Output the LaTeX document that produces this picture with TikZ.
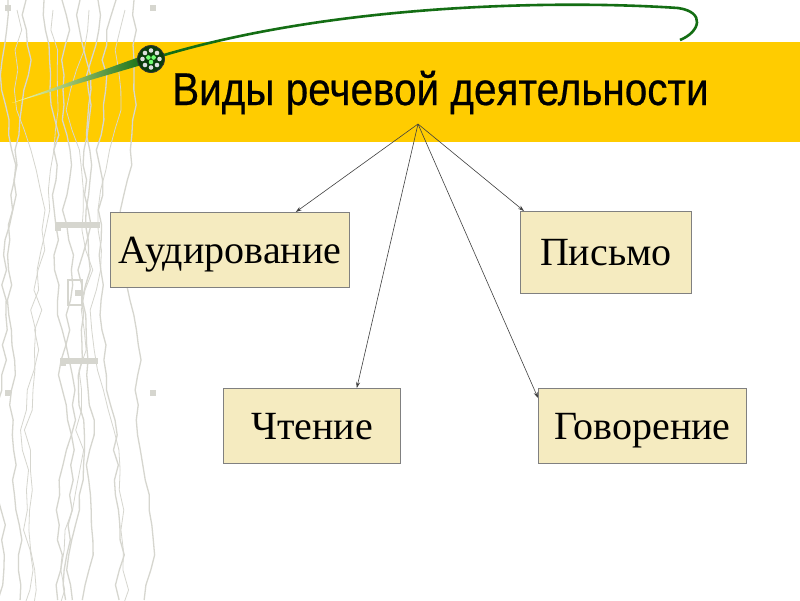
\documentclass[tikz,border=0pt]{standalone}
\usepackage{fontspec}
\setmainfont{Liberation Serif}
\newfontfamily\titlefont[FakeBold=0.5]{Liberation Sans}
\usetikzlibrary{arrows.meta,calc}
\definecolor{band}{RGB}{255,204,0}
\definecolor{boxfill}{RGB}{245,235,192}
\definecolor{boxline}{RGB}{128,128,128}
\definecolor{texgray}{RGB}{214,214,207}
\definecolor{leaf}{RGB}{20,110,20}
\tikzset{
  box/.style={draw=boxline, line width=0.8pt, fill=boxfill, inner sep=0pt, anchor=north west,
    font=\fontsize{40}{40}\selectfont, text height=26.5pt, text depth=0pt},
  link/.style={draw=black!75, line width=0.6pt, -{Stealth[length=6pt,width=4pt]}},
  tex/.style={draw=texgray, line width=1.3pt},
}
\begin{document}
\begin{tikzpicture}[x=1pt,y=-1pt]
\useasboundingbox (0,0) rectangle (800,600);
\fill[white] (0,0) rectangle (800,600);
% yellow band
\fill[band] (0,42) rectangle (800,142);
% left texture
\pgfmathsetseed{11}
\foreach \c in {8,26,...,150} {
  \draw[tex] (\c,0) \foreach \r in {1,...,40} { -- ++({rand*5},15) };
}
\foreach \c in {17,53,...,140} {
  \draw[tex, line width=0.8pt] (\c,10) \foreach \r in {1,...,30} { -- ++({rand*8},20) };
}
\foreach \x/\y in {55/225,60/360,5/390,150/390,150/5,5/5,75/290} {
  \fill[texgray] (\x,\y) rectangle ++(6,6);
}
\fill[texgray] (55,222) rectangle (100,228);
\fill[texgray] (60,358) rectangle (98,364);
\draw[texgray, line width=1.5pt] (68,280) rectangle (82,305);
% green stem
\shade[left color=yellow!30!white, right color=leaf] (12,103) -- (142,56) -- (145,64) -- cycle;
\draw[leaf, line width=2.6pt] (151,59) .. controls (330,3) and (560,0) .. (678,8)
  .. controls (706,12) and (700,32) .. (680,40);
% ball
\node (ball) [circle, draw=black!80, line width=0.8pt, fill=leaf!55!black, minimum size=27pt, inner sep=0pt] at (151,59) {};
\foreach \a in {0,45,...,315} {
  \fill[gray!25!white] ($(ball.center)+(\a:8.5)$) circle (2.3pt);
}
\foreach \a in {90,210,330} {
  \fill[green!55!white] ($(ball.center)+(\a:3)$) circle (2.3pt);
}
% title
\node (title) [anchor=base west, inner sep=0pt, font=\titlefont\fontsize{46}{46}\selectfont, xscale=0.88]
  at (172,105) {Виды речевой деятельности};
\coordinate (src) at (418,124);
% boxes
\node (a) [box, minimum width=239pt, minimum height=75pt] at (110,212) {Аудирование};
\node (p) [box, minimum width=171pt, minimum height=82pt] at (520,211) {Письмо};
\node (ch) [box, minimum width=177pt, minimum height=75pt] at (223,388) {Чтение};
\node (g) [box, minimum width=208pt, minimum height=75pt] at (538,388) {Говорение};
% arrows
\draw[link] (src) -- ([xshift=-54pt]a.north east);
\draw[link] (src) -- ([xshift=4pt]p.north west);
\draw[link] (src) -- ([xshift=-44pt]ch.north east);
\draw[link] (src) -- ([yshift=-10pt]g.north west);
\end{tikzpicture}
\end{document}
